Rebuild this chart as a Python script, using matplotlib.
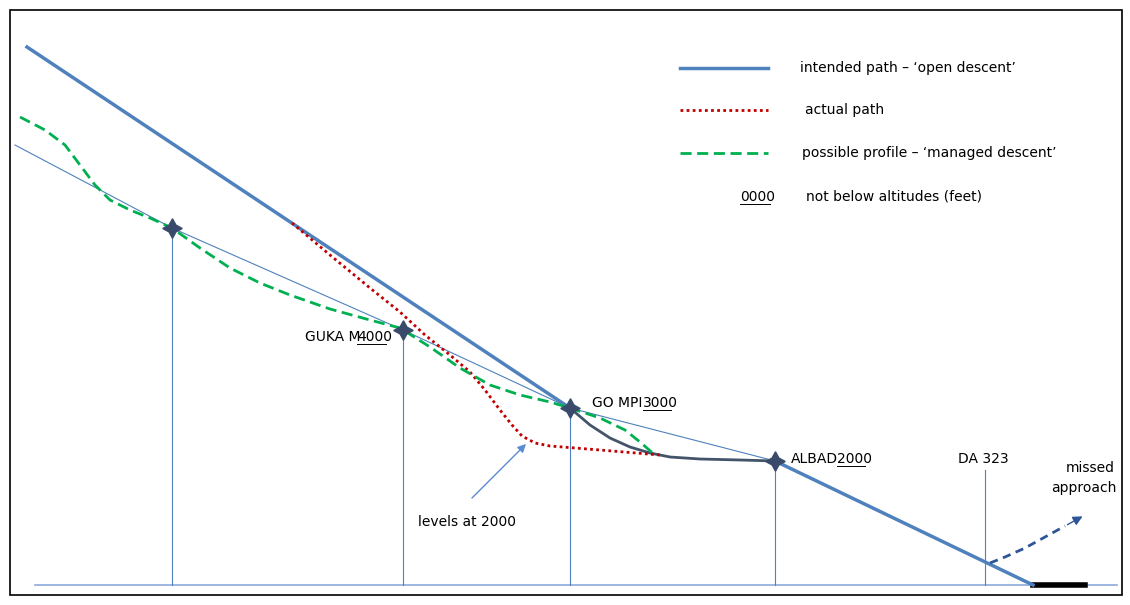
import numpy as np
import matplotlib.pyplot as plt
from matplotlib.patches import FancyArrowPatch, Rectangle

# pixel-space diagram data (y measured downward)
intended_x = [27, 570, 590, 610, 630, 650, 670, 700, 740, 775, 1033]
intended_y = [47, 408, 425, 438, 447, 453, 457, 459, 460, 461, 585]
approach_x = [15, 172, 403, 570, 775, 1033]
approach_y = [145, 228, 330, 408, 461, 585]
actual_x = [292, 330, 370, 400, 425, 450, 470, 485, 500, 512, 522, 535, 550, 600, 660]
actual_y = [223, 255, 288, 312, 335, 355, 372, 390, 410, 425, 436, 443, 446, 450, 455]
managed_x = [20, 45, 65, 80, 95, 110, 130, 150, 172, 200, 230, 260, 290, 330, 370, 400,
             430, 460, 490, 520, 550, 570, 600, 625, 640, 655]
managed_y = [117, 130, 145, 165, 185, 200, 210, 218, 228, 248, 268, 283, 295, 309, 320, 328,
             347, 368, 385, 395, 402, 408, 418, 430, 442, 455]
fix_x = [172, 403, 570, 775]
fix_y = [228, 330, 408, 461]
missed_x = [990, 1005, 1025, 1045, 1065, 1085]
missed_y = [563, 557, 548, 537, 526, 515]

plt.rcParams['font.family'] = ['Liberation Sans Narrow', 'DejaVu Sans']

fig = plt.figure(figsize=(11.3, 6.05), dpi=100)
ax = fig.add_axes([0, 0, 1, 1])
ax.set_xlim(0, 1130)
ax.set_ylim(605, 0)
ax.axis('off')

ax.add_patch(Rectangle((10, 10), 1112, 585, fill=False, ec='black', lw=1.2))
blue = '#4f81bd'
ax.plot([35, 1117], [585, 585], color='#8eaadb', lw=1.2)
ax.plot([1033, 1085], [585, 585], color='black', lw=4)

for x, y in zip(fix_x, fix_y):
    ax.plot([x, x], [y, 585], color=blue, lw=0.8)
ax.plot([985, 985], [470, 585], color=blue, lw=0.8)

ax.plot(approach_x, approach_y, color=blue, lw=0.8)
ax.plot(intended_x[:2], intended_y[:2], color=blue, lw=2.5)
ax.plot(intended_x[1:10], intended_y[1:10], color='#44546a', lw=2)
ax.plot(intended_x[9:], intended_y[9:], color=blue, lw=2.5)
ax.plot(actual_x, actual_y, color='#c00000', lw=2, ls=(0, (1, 1.2)))
ax.plot(managed_x, managed_y, color='#00b050', lw=2, ls=(0, (4, 2)))
ax.plot(missed_x[:-1], missed_y[:-1], color='#2f5597', lw=2, ls=(0, (3, 2)))
ax.add_patch(FancyArrowPatch((missed_x[-2], missed_y[-2]), (missed_x[-1], missed_y[-1]),
                             arrowstyle='-|>', mutation_scale=14, color='#2f5597'))

ax.plot(fix_x, fix_y, marker=(4, 1, 0), ls='none', ms=14, color='#3a4a6b')

fs = 10
ax.text(305, 337, 'GUKA M', fontsize=fs, va='center')
ax.text(357, 337, '4000', fontsize=fs, va='center')
ax.text(592, 403, 'GO MPI', fontsize=fs, va='center')
ax.text(643, 403, '3000', fontsize=fs, va='center')
ax.text(791, 459, 'ALBAD', fontsize=fs, va='center')
ax.text(837, 459, '2000', fontsize=fs, va='center')
for x0, y0, w in [(357, 344, 29), (643, 410, 28), (837, 466, 28), (740, 204, 30)]:
    ax.plot([x0, x0 + w], [y0, y0], color='black', lw=0.7)
ax.text(958, 459, 'DA 323', fontsize=fs, va='center')
ax.text(1115, 468, 'missed', fontsize=fs, va='center', ha='right')
ax.text(1116, 488, 'approach', fontsize=fs, va='center', ha='right')
ax.text(418, 522, 'levels at 2000', fontsize=fs, va='center')
ax.add_patch(FancyArrowPatch((470, 500), (528, 442), arrowstyle='-|>',
                             mutation_scale=12, color='#5b8bd0', lw=1))

ax.plot([680, 768], [68, 68], color=blue, lw=2.5)
ax.plot([680, 768], [110, 110], color='#c00000', lw=2, ls=(0, (1, 1.2)))
ax.plot([680, 768], [153, 153], color='#00b050', lw=2, ls=(0, (4, 2)))
ax.text(800, 68, 'intended path \u2013 \u2018open descent\u2019', fontsize=fs, va='center')
ax.text(805, 110, 'actual path', fontsize=fs, va='center')
ax.text(802, 153, 'possible profile \u2013 \u2018managed descent\u2019', fontsize=fs, va='center')
ax.text(740, 197, '0000', fontsize=fs, va='center')
ax.text(806, 197, 'not below altitudes (feet)', fontsize=fs, va='center')

fig.savefig('out.png', dpi=100)
